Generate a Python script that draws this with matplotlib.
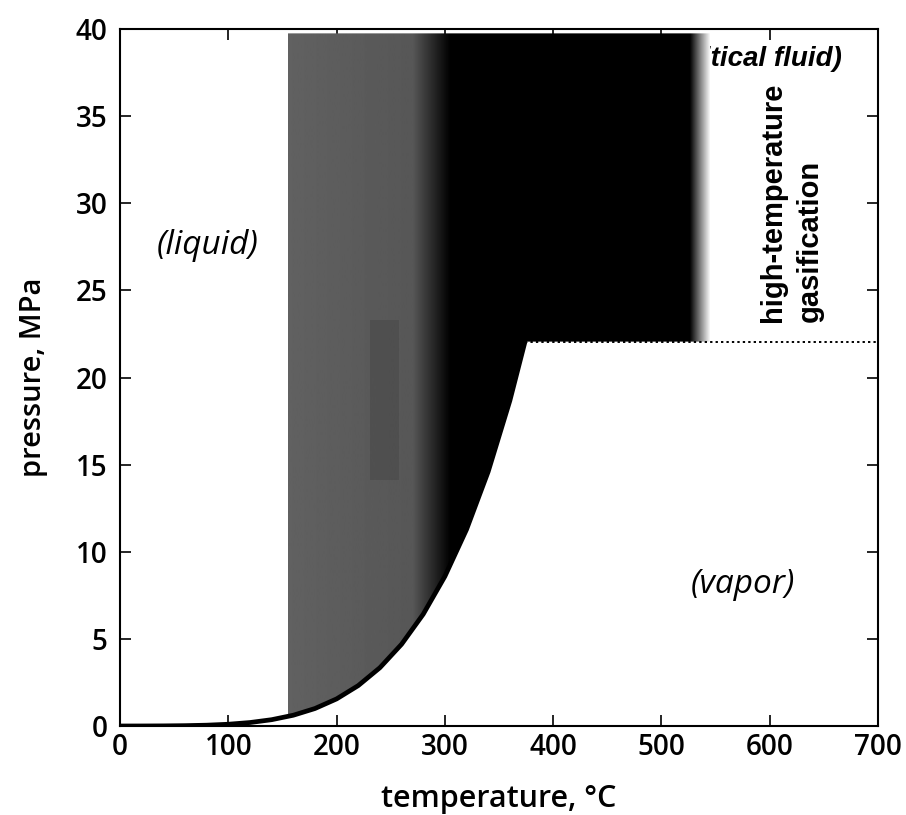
import numpy as np
import matplotlib
matplotlib.use('Agg')
import matplotlib.pyplot as plt
from matplotlib.patches import Polygon

# saturation curve of water (steam table values)
sat_T = [0, 20, 40, 60, 80, 100, 120, 140, 160, 180, 200, 220, 240, 260,
         280, 300, 320, 340, 360, 374]
sat_P = [0.0006, 0.0023, 0.0074, 0.020, 0.047, 0.101, 0.199, 0.362, 0.618,
         1.003, 1.555, 2.320, 3.347, 4.692, 6.417, 8.588, 11.28, 14.60,
         18.67, 22.06]

# critical point and dotted supercritical boundary
crit_T = 374
crit_P = 22.06
dotted_T = [374, 700]

# shaded process window (grey -> black -> fade)
zone_left = 155
zone_right = 545
zone_top = 39.75
shade_T = [155, 270, 305, 526, 545]
shade_v = [0.38, 0.34, 0.0, 0.0, 1.0]
dark_patch_T = [231, 258]
dark_patch_P = [14.1, 23.3]

xticks = [0, 100, 200, 300, 400, 500, 600, 700]
yticks = [0, 5, 10, 15, 20, 25, 30, 35, 40]

fig = plt.figure(figsize=(9.06, 8.15), dpi=100)
ax = fig.add_axes([0.1325, 0.1092, 0.8366, 0.8552])

sans = ['Open Sans', 'DejaVu Sans']
narrow = ['Liberation Sans Narrow', 'Liberation Sans', 'DejaVu Sans']

# text hidden partly under the black area
ax.text(667, 38.3, '(supercritical fluid)', ha='right', va='center',
        fontsize=20, fontweight='bold', style='italic',
        family=['Liberation Sans', 'DejaVu Sans'], zorder=1)

# region polygon: above the curve up to the top, right of critical point above Pc
verts = [(t, p) for t, p in zip(sat_T, sat_P) if t >= 140]
verts += [(zone_right, crit_P), (zone_right, zone_top), (140, zone_top)]
clip = Polygon(verts, closed=True, transform=ax.transData, facecolor='none',
               edgecolor='none')
ax.add_patch(clip)

cols = np.arange(zone_left, zone_right + 1)
row = np.interp(cols, shade_T, shade_v)
img = ax.imshow(row[np.newaxis, :], cmap='gray', vmin=0, vmax=1,
                extent=[zone_left, zone_right, 0, zone_top], aspect='auto',
                interpolation='bilinear', zorder=2)
img.set_clip_path(clip)

# darker blob inside the grey area
patch = ax.fill_between(dark_patch_T, dark_patch_P[0], dark_patch_P[1],
                        color='black', alpha=0.1, lw=0, zorder=3)
patch.set_clip_path(clip)

# curve and dotted line
ax.plot(sat_T, sat_P, color='black', lw=3.4, solid_capstyle='butt', zorder=4)
ax.plot(dotted_T, [crit_P, crit_P], color='black', lw=1.4, ls=(0, (1.2, 1.6)),
        zorder=4)

ax.text(81, 27.6, '(liquid)', ha='center', va='center', fontsize=24,
        style='italic', family=sans, zorder=5)
ax.text(575, 8.1, '(vapor)', ha='center', va='center', fontsize=24,
        style='italic', family=sans, zorder=5)
ax.text(620, 23.2, 'high-temperature\ngasification', ha='center',
        va='bottom', rotation=90, fontsize=21, fontweight='bold',
        linespacing=1.4, multialignment='left', family=narrow, zorder=5)

ax.set_xlim(0, 700)
ax.set_ylim(0, 40)
ax.set_xticks(xticks)
ax.set_yticks(yticks)
ax.tick_params(direction='in', length=8, width=1.2, top=True, right=True,
               labelsize=20)
ax.tick_params(axis='x', pad=5)
ax.tick_params(axis='y', pad=9)
for lab in ax.get_xticklabels() + ax.get_yticklabels():
    lab.set_family(sans)
    lab.set_fontweight('semibold')
for s in ax.spines.values():
    s.set_linewidth(1.5)
    s.set_zorder(6)

ax.set_xlabel('temperature, °C', fontsize=22, fontweight='semibold',
              family=sans, labelpad=16)
ax.set_ylabel('pressure, MPa', fontsize=21, fontweight='semibold',
              family=sans, labelpad=20)

fig.savefig('out.png', dpi=100)
